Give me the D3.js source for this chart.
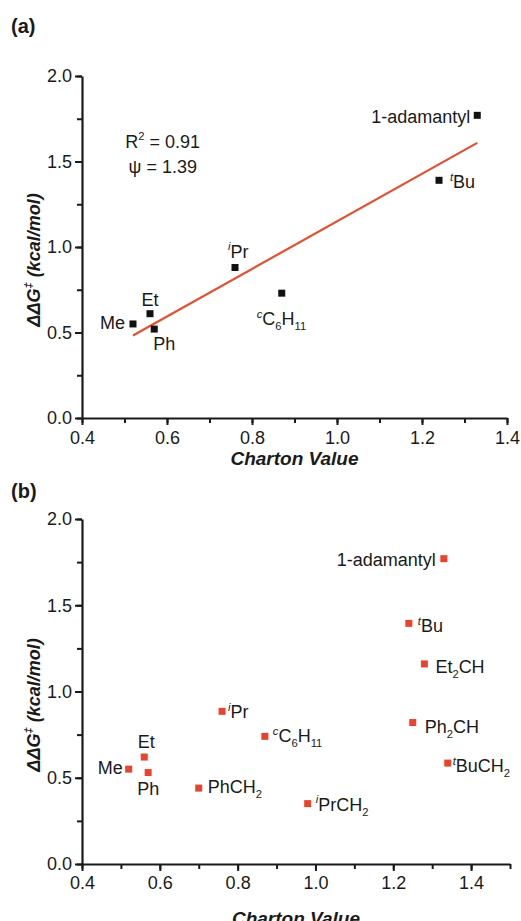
<!DOCTYPE html>
<html>
<head>
<meta charset="utf-8">
<script src="https://cdn.jsdelivr.net/npm/d3@7"></script>
<style>
  html, body { margin: 0; padding: 0; background: #fff; }
  svg { display: block; }
  text { font-family: "Liberation Sans", Arial, sans-serif; fill: #1a1a1a; }
</style>
</head>
<body>
<svg id="chart" width="521" height="921"></svg>
<script>
// --- data ---
const namesA = ["Me", "Et", "Ph", "^{i}Pr", "^{c}C_{6}H_{11}", "^{t}Bu", "1-adamantyl"];
const chartonA = [0.52, 0.56, 0.57, 0.76, 0.87, 1.24, 1.33];
const ddgA = [0.55, 0.61, 0.52, 0.88, 0.73, 1.39, 1.77];

const namesB = ["Me", "Et", "Ph", "PhCH_{2}", "^{i}Pr", "^{c}C_{6}H_{11}", "^{i}PrCH_{2}",
  "Ph_{2}CH", "^{t}BuCH_{2}", "^{t}Bu", "Et_{2}CH", "1-adamantyl"];
const chartonB = [0.52, 0.56, 0.57, 0.70, 0.76, 0.87, 0.98, 1.25, 1.34, 1.24, 1.28, 1.33];
const ddgB = [0.55, 0.62, 0.53, 0.44, 0.885, 0.74, 0.35, 0.82, 0.585, 1.395, 1.16, 1.77];

// linear fit shown in (a)
const fitSlope = 1.39;
const fitIntercept = -0.24;
const fitRange = [0.52, 1.33];
const statLines = ["R^{2} = 0.91", "ψ = 1.39"];

const xTicksA = [0.4, 0.6, 0.8, 1.0, 1.2, 1.4];
const xTicksB = [0.4, 0.6, 0.8, 1.0, 1.2, 1.4];
const yTicks = [0.0, 0.5, 1.0, 1.5, 2.0];

// label placement relative to the marker: [dx, dy, anchor]
const placeA = [[-8, 5, "end"], [0, -8, "middle"], [-1, 21, "start"], [-7, -10, "start"],
  [-25, 32, "start"], [11, 8, "start"], [-7, 8, "end"]];
const placeB = [[-6, 5, "end"], [2, -9, "middle"], [-11, 22, "start"], [9, 5, "start"],
  [6, 7, "start"], [8, 6, "start"], [8, 7, "start"], [12, 10, "start"], [5, 9, "start"],
  [9, 9, "start"], [11, 9, "start"], [-8, 7, "end"]];

const svg = d3.select("#chart");
const RED = "#e8432d";

// small markup: ^{..} superscript, _{..} subscript
function richText(textSel, str, fs, italicSup) {
  const parts = str.match(/\^\{[^}]*\}|_\{[^}]*\}|[^^_]+/g);
  let shift = 0;
  parts.forEach(p => {
    let kind = "n", s = p;
    if (p.startsWith("^{")) { kind = "sup"; s = p.slice(2, -1); }
    else if (p.startsWith("_{")) { kind = "sub"; s = p.slice(2, -1); }
    const target = kind === "sup" ? -0.42 * fs : kind === "sub" ? 0.28 * fs : 0;
    const t = textSel.append("tspan").text(s).attr("dy", target - shift);
    shift = target;
    if (kind !== "n") {
      t.style("font-size", (fs * 0.62) + "px");
      if (kind === "sup" && italicSup) t.style("font-style", "italic");
    }
  });
}

function panel(opt) {
  const g = svg.append("g");
  const x = d3.scaleLinear().domain(opt.xDomain).range(opt.xRange);
  const y = d3.scaleLinear().domain([0, 2]).range(opt.yRange);

  // minor ticks
  const minorX = d3.range(opt.xDomain[0], opt.xDomain[1] + 1e-9, 0.1);
  const minorY = d3.range(0, 2 + 1e-9, 0.25);
  g.append("g").attr("transform", `translate(0,${opt.yRange[0]})`)
    .call(d3.axisBottom(x).tickValues(minorX).tickSize(5).tickFormat(""))
    .call(a => a.select(".domain").remove());
  g.append("g").attr("transform", `translate(${opt.xRange[0]},0)`)
    .call(d3.axisLeft(y).tickValues(minorY).tickSize(5).tickFormat(""))
    .call(a => a.select(".domain").remove());

  const xa = g.append("g").attr("transform", `translate(0,${opt.yRange[0]})`)
    .call(d3.axisBottom(x).tickValues(opt.xTicks).tickSize(7).tickSizeOuter(0)
      .tickPadding(opt.xPad).tickFormat(d3.format(".1f")));
  const ya = g.append("g").attr("transform", `translate(${opt.xRange[0]},0)`)
    .call(d3.axisLeft(y).tickValues(yTicks).tickSize(7).tickSizeOuter(0)
      .tickPadding(3).tickFormat(d3.format(".1f")));
  g.selectAll(".tick line").attr("stroke", "#1a1a1a").attr("stroke-width", 2);
  g.selectAll(".domain").attr("stroke", "#1a1a1a").attr("stroke-width", 2.2);
  [xa, ya].forEach(a => a.selectAll("text")
    .style("font-family", '"Liberation Sans", Arial, sans-serif')
    .style("font-size", "18px").attr("fill", "#1a1a1a"));

  // panel letter
  g.append("text").attr("x", 11).attr("y", opt.letterY)
    .style("font-size", "20px").style("font-weight", "bold").text(opt.letter);

  // axis titles
  g.append("text").attr("x", (opt.xRange[0] + opt.xRange[1]) / 2).attr("y", opt.xTitleY)
    .attr("text-anchor", "middle").style("font-size", "19px")
    .style("font-weight", "bold").style("font-style", "italic").text("Charton Value");
  const yt = g.append("text")
    .attr("transform", `translate(40,${opt.yTitleY}) rotate(-90)`)
    .attr("text-anchor", "middle").style("font-size", "18px")
    .style("font-weight", "bold").style("font-style", "italic");
  richText(yt, "ΔΔG^{‡} (kcal/mol)", 18, false);

  return { g, x, y };
}

// ---------- (a) ----------
const pa = panel({
  letter: "(a)", letterY: 33,
  xDomain: [0.4, 1.4], xRange: [82, 507], yRange: [418, 76],
  xTicks: xTicksA, xPad: 6, xTitleY: 465, yTitleY: 260
});

pa.g.append("line")
  .attr("x1", pa.x(fitRange[0])).attr("y1", pa.y(fitSlope * fitRange[0] + fitIntercept))
  .attr("x2", pa.x(fitRange[1])).attr("y2", pa.y(fitSlope * fitRange[1] + fitIntercept))
  .attr("stroke", "#e2502f").attr("stroke-width", 2.2);

pa.g.selectAll("rect.pt").data(chartonA).join("rect").attr("class", "pt")
  .attr("x", d => pa.x(d) - 3.5).attr("y", (d, i) => pa.y(ddgA[i]) - 3.5)
  .attr("width", 7).attr("height", 7).attr("fill", "#111");

namesA.forEach((n, i) => {
  const p = placeA[i];
  const t = pa.g.append("text")
    .attr("x", pa.x(chartonA[i]) + p[0]).attr("y", pa.y(ddgA[i]) + p[1])
    .attr("text-anchor", p[2]).style("font-size", "18px");
  richText(t, n, 18, true);
});

statLines.forEach((s, i) => {
  const t = pa.g.append("text").attr("x", pa.x(0.59)).attr("y", pa.y(i === 0 ? 1.58 : 1.43))
    .attr("text-anchor", "middle").style("font-size", "18px");
  richText(t, s, 18, false);
});

// ---------- (b) ----------
const pb = panel({
  letter: "(b)", letterY: 498,
  xDomain: [0.4, 1.5], xRange: [82, 510], yRange: [864, 519],
  xTicks: xTicksB, xPad: 5, xTitleY: 925, yTitleY: 705
});

pb.g.selectAll("rect.pt").data(chartonB).join("rect").attr("class", "pt")
  .attr("x", d => pb.x(d) - 3.5).attr("y", (d, i) => pb.y(ddgB[i]) - 3.5)
  .attr("width", 7).attr("height", 7).attr("fill", RED);

namesB.forEach((n, i) => {
  const p = placeB[i];
  const t = pb.g.append("text")
    .attr("x", pb.x(chartonB[i]) + p[0]).attr("y", pb.y(ddgB[i]) + p[1])
    .attr("text-anchor", p[2]).style("font-size", "18px");
  richText(t, n, 18, true);
});
</script>
</body>
</html>
